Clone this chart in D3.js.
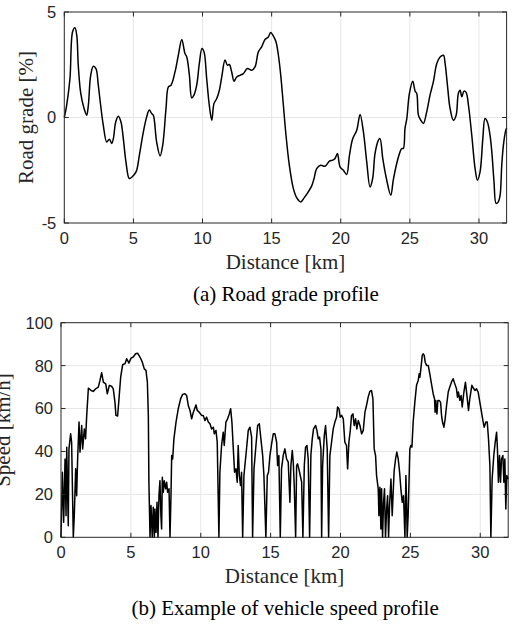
<!DOCTYPE html>
<html>
<head>
<meta charset="utf-8">
<script src="https://cdn.jsdelivr.net/npm/d3@7"></script>
<style>
  html, body { margin: 0; padding: 0; background: #fff; }
  svg { display: block; }
  .tick-label { font-family: "Liberation Sans", Arial, sans-serif; font-size: 16.5px; fill: #262626; }
  .axis-label { font-family: "Liberation Serif", "Times New Roman", serif; font-size: 21px; fill: #262626; }
  .caption { font-family: "Liberation Serif", "Times New Roman", serif; font-size: 21px; fill: #000; }
</style>
</head>
<body>
<svg id="chart" width="513" height="631"></svg>
<script>
// distance ticks shared by both panels
const distTicks = [0, 5, 10, 15, 20, 25, 30];
const gradeTicks = [-5, 0, 5];
const speedTicks = [0, 20, 40, 60, 80, 100];

// (a) road grade profile
const gradeDist = [0, 0.17, 0.41, 0.6, 0.77, 0.9, 1.01, 1.19, 1.43, 1.62, 1.74, 1.91, 2.1, 2.29, 2.46, 2.63,
  2.82, 3.07, 3.26, 3.43, 3.55, 3.72, 3.91, 4.1, 4.27, 4.46, 4.7, 4.88, 5.19, 5.43, 5.72, 5.96, 6.15, 6.32,
  6.44, 6.68, 6.93, 7.12, 7.36, 7.53, 7.72, 8.01, 8.25, 8.5, 8.73, 8.86, 9.05, 9.22, 9.38, 9.58, 9.77, 9.96,
  10.11, 10.3, 10.49, 10.67, 10.83, 11.03, 11.22, 11.39, 11.63, 11.8, 11.94, 12.11, 12.28, 12.47, 12.71,
  12.95, 13.24, 13.56, 13.8, 14.04, 14.28, 14.52, 14.76, 14.93, 15.12, 15.32, 15.49, 15.66, 15.85, 16.04,
  16.28, 16.57, 16.82, 17.11, 17.35, 17.58, 17.9, 18.07, 18.26, 18.55, 18.86, 19.18, 19.42, 19.59, 19.76,
  19.95, 20.19, 20.43, 20.63, 20.87, 21.16, 21.4, 21.64, 21.88, 22.12, 22.31, 22.48, 22.72, 22.84, 23.04,
  23.28, 23.62, 23.8, 24.05, 24.29, 24.41, 24.53, 24.65, 24.78, 24.97, 25.21, 25.38, 25.5, 25.62, 25.79,
  25.98, 26.22, 26.46, 26.7, 26.95, 27.19, 27.43, 27.55, 27.72, 27.91, 28.15, 28.35, 28.51, 28.64, 28.76,
  28.92, 29.07, 29.24, 29.48, 29.72, 29.89, 30.08, 30.28, 30.44, 30.61, 30.8, 30.93, 31.09, 31.24, 31.4,
  31.53, 31.65, 31.77, 31.94, 32];
const gradePct = [0, 0.58, 1.85, 4.06, 4.25, 3.9, 2.48, 1.14, 0.43, 0.11, 0.58, 2.0, 2.43, 2.32, 1.53, 0.58,
  -0.36, -1.16, -1.03, -1.23, -1.0, -0.21, 0.06, -0.21, -1.0, -2.1, -2.89, -2.83, -2.58, -1.79, -0.68, 0.03,
  0.35, 0.19, 0.11, -1.16, -1.82, -1.31, 0.43, 1.45, 1.53, 2.16, 2.95, 3.7, 3.03, 2.87, 2.0, 0.93, 1.06,
  1.53, 2.56, 3.27, 3.11, 1.85, 0.58, -0.13, 0.66, 0.9, 1.29, 1.92, 2.72, 2.48, 2.51, 2.16, 1.72, 1.92, 2.0,
  2.08, 2.32, 2.24, 2.4, 3.11, 3.35, 3.7, 3.82, 4.03, 3.87, 3.58, 2.95, 2.0, 0.58, -0.84, -2.26, -3.36,
  -3.81, -4.0, -3.81, -3.6, -3.24, -2.89, -2.42, -2.26, -2.31, -2.07, -2.02, -1.94, -1.71, -2.34, -2.5,
  -2.7, -1.79, -1.0, -0.6, 0.14, -0.68, -2.1, -3.29, -2.89, -1.71, -1.08, -1.0, -1.94, -2.82, -3.68, -2.97,
  -2.18, -1.63, -1.47, -1.47, -0.52, -0.05, 1.14, 1.72, 1.25, 1.14, 0.11, -0.13, -0.28, 0.27, 1.06, 1.69,
  2.56, 2.87, 2.95, 2.56, 1.53, 0.43, -0.13, 0.11, 1.14, 1.29, 0.98, 1.25, 1.19, 0.58, -0.84, -2.42, -2.97,
  -2.58, -1.0, -0.05, -0.21, -0.84, -1.63, -3.05, -4.07, -4.0, -3.68, -2.26, -1.31, -0.6, -0.5];

// (b) vehicle speed profile
const speedDist = [0, 0.1, 0.19, 0.29, 0.36, 0.41, 0.52, 0.57, 0.69, 0.76, 0.88, 0.95, 1.05, 1.12, 1.19,
  1.29, 1.36, 1.48, 1.55, 1.67, 1.76, 1.84, 1.96, 2.15, 2.31, 2.48, 2.67, 2.79, 2.91, 3.03, 3.2, 3.31, 3.46,
  3.62, 3.74, 3.86, 3.93, 4.05, 4.15, 4.27, 4.41, 4.58, 4.7, 4.86, 5.01, 5.17, 5.34, 5.48, 5.65, 5.82, 5.96,
  6.08, 6.18, 6.25, 6.29, 6.37, 6.44, 6.53, 6.6, 6.68, 6.72, 6.8, 6.87, 6.94, 7.01, 7.08, 7.15, 7.2, 7.25,
  7.32, 7.39, 7.49, 7.56, 7.63, 7.73, 7.8, 7.87, 7.92, 7.99, 8.08, 8.23, 8.39, 8.56, 8.7, 8.87, 8.99, 9.11,
  9.23, 9.35, 9.47, 9.66, 9.75, 9.89, 10.06, 10.18, 10.3, 10.42, 10.54, 10.66, 10.78, 10.9, 10.97, 11.09,
  11.18, 11.3, 11.37, 11.49, 11.61, 11.68, 11.8, 11.92, 12.04, 12.14, 12.23, 12.33, 12.42, 12.52, 12.61,
  12.68, 12.76, 12.85, 12.92, 13.0, 13.09, 13.23, 13.4, 13.52, 13.64, 13.71, 13.81, 13.95, 14.07, 14.19,
  14.28, 14.43, 14.52, 14.66, 14.76, 14.85, 14.95, 15.07, 15.19, 15.31, 15.43, 15.5, 15.59, 15.69, 15.78,
  15.9, 16.02, 16.14, 16.26, 16.38, 16.45, 16.55, 16.62, 16.69, 16.79, 16.86, 16.93, 17.02, 17.12, 17.22,
  17.31, 17.41, 17.5, 17.6, 17.69, 17.79, 17.88, 17.98, 18.07, 18.22, 18.31, 18.41, 18.5, 18.6, 18.65,
  18.72, 18.84, 18.93, 19.05, 19.15, 19.24, 19.36, 19.48, 19.6, 19.72, 19.79, 19.89, 19.98, 20.08, 20.2,
  20.31, 20.43, 20.51, 20.6, 20.7, 20.79, 20.89, 20.98, 21.08, 21.17, 21.27, 21.39, 21.51, 21.63, 21.75,
  21.86, 21.98, 22.1, 22.22, 22.32, 22.41, 22.51, 22.58, 22.7, 22.75, 22.82, 22.89, 22.94, 23.01, 23.08,
  23.15, 23.22, 23.3, 23.37, 23.44, 23.51, 23.61, 23.7, 23.77, 23.84, 23.94, 24.03, 24.13, 24.23, 24.32,
  24.42, 24.51, 24.61, 24.68, 24.73, 24.77, 24.84, 24.92, 24.96, 25.03, 25.11, 25.2, 25.32, 25.44, 25.56,
  25.63, 25.68, 25.75, 25.85, 25.92, 25.99, 26.06, 26.16, 26.28, 26.39, 26.51, 26.63, 26.73, 26.77, 26.82,
  26.9, 26.97, 27.06, 27.16, 27.23, 27.3, 27.4, 27.49, 27.59, 27.71, 27.82, 27.94, 28.06, 28.18, 28.3,
  28.37, 28.44, 28.54, 28.63, 28.71, 28.83, 28.94, 29.06, 29.16, 29.25, 29.4, 29.54, 29.63, 29.73, 29.85,
  29.97, 30.09, 30.21, 30.28, 30.4, 30.5, 30.59, 30.69, 30.76, 30.85, 30.97, 31.07, 31.17, 31.23, 31.3,
  31.38, 31.45, 31.52, 31.62, 31.69, 31.76, 31.83, 31.9, 32];
const speedKmh = [0, 30.3, 7, 36.5, 10.1, 42, 5.4, 41.2, 48.2, 44.3, 0, 10.1, 31.9, 19.4, 36.5,
  53.7, 39.7, 52.1, 41.2, 50.5, 45.9, 56.8, 69.5, 68.4, 68, 69.2, 70, 73.1, 76.7, 72.3, 71.5, 66.9, 70.8,
  70.4, 69.2, 63, 56.8, 56.5, 64.5, 74.6, 80.4, 80.9, 83.2, 81.2, 83.5, 84, 85.5, 85.8, 84, 81.6, 78.5,
  77.8, 72.3, 56.8, 25.7, 0, 14.8, 0, 14, 0, 13.2, 2.3, 16.3, 0, 19.4, 26.4, 10.1, 3.9, 28,
  21, 26.4, 22.6, 25.7, 21, 22.6, 0, 19.4, 38.1, 36.5, 45.9, 53.7, 59.9, 64.5, 66.6, 66.9, 66.1, 61.4,
  59.1, 55.2, 58.3, 61.7, 59.1, 58.3, 56.8, 56.8, 54.4, 56, 53.7, 52.9, 50.5, 51.3, 48.2, 49.8,
  44.3, 0, 30.3, 42.8, 49, 42.8, 53.7, 55.2, 57.5, 59.9, 53.7, 41.2, 30.3, 31.9, 25.7,
  42.8, 28.8, 24.1, 30.3, 0, 28.8, 38.1, 49.8, 51.3, 46.7, 0, 31.9, 42.8, 52.1, 52.9,
  47.4, 38.1, 28.8, 0, 28.8, 30.3, 38.1, 43.5, 48.2, 48.2, 44.3, 33.4, 38.1, 0, 31.9,
  38.1, 41.2, 36.5, 35, 16.3, 33.4, 40.4, 35, 24.1, 0, 33.4, 34.2, 31.9, 28.8, 25.7,
  0, 33.4, 42, 42.8, 36.5, 0, 38.1, 45.9, 50.5, 52.1, 49.8, 45.9, 46.7, 41.2, 0,
  33.4, 47.4, 52.1, 41.2, 0, 38.1, 44.3, 50.5, 53.7, 56, 60.7, 59.9, 56, 56.8, 55.2,
  44.3, 42.8, 31.9, 44.3, 49.8, 56.8, 57.5, 52.1, 55.2, 50.5, 54.4, 52.1, 48.2, 49.8, 58.3,
  61.4, 65.3, 68, 68.4, 64.5, 41.2, 38.1, 28.8, 22.6, 10.1, 23.3, 3.9, 22.6, 0, 16.3,
  22.6, 0, 13.2, 19.4, 0, 14.8, 27.2, 10.1, 21, 31.1, 36.5, 39.7, 36.5, 30.3, 22.6,
  16.3, 19.4, 0, 28.8, 16.3, 0, 10.1, 30.3, 41.2, 42.8, 42, 53.7, 63, 70.8, 73.1,
  76.2, 74.6, 78.5, 84.8, 85.5, 84.8, 81.6, 80.1, 80.1, 76.2, 71.5, 66.9, 64.5, 58.3, 63.8,
  57.5, 63.8, 63.8, 63, 56.8, 53.7, 51.3, 55.2, 61.4, 67.7, 70, 72.3, 73.9, 71.5, 69.2,
  65.3, 67.7, 63.8, 66.1, 60.7, 67.7, 72.3, 65.3, 59.1, 64.5, 70.8, 69.2, 68.4, 69.2, 67.7,
  63, 58.3, 53.7, 51.3, 53.7, 53.7, 45.9, 33.4, 0, 27.2, 38.1, 44.3, 49, 41.2, 25.7,
  38.1, 25.7, 36.5, 38.1, 25.7, 36.5, 13.2, 28.8, 27.2];

const svg = d3.select("#chart");
svg.append("rect").attr("width", 513).attr("height", 631).attr("fill", "#fff");

const panels = [
  {
    box: { left: 64.3, right: 506.6, top: 12, bottom: 223 },
    yDomain: [-5, 5], yTicks: gradeTicks,
    xs: gradeDist, ys: gradePct, curve: d3.curveCatmullRom.alpha(0.5),
    yLabel: "Road grade [%]", yLabelX: 33,
    caption: "(a) Road grade profile"
  },
  {
    box: { left: 61, right: 508.2, top: 322.7, bottom: 537.3 },
    yDomain: [0, 100], yTicks: speedTicks,
    xs: speedDist, ys: speedKmh, curve: d3.curveLinear,
    yLabel: "Speed [km/h]", yLabelX: 10,
    caption: "(b) Example of vehicle speed profile"
  }
];

panels.forEach(p => drawPanel(p));

function drawPanel(p) {
  const b = p.box;
  const x = d3.scaleLinear().domain([0, 32]).range([b.left, b.right]);
  const y = d3.scaleLinear().domain(p.yDomain).range([b.bottom, b.top]);
  const g = svg.append("g");
  const tickLen = 4.5;

  // grid
  g.selectAll(".vgrid").data(distTicks.filter(t => t > 0)).enter().append("line")
    .attr("x1", d => x(d)).attr("x2", d => x(d))
    .attr("y1", b.top).attr("y2", b.bottom)
    .attr("stroke", "#e6e6e6").attr("stroke-width", 1);
  g.selectAll(".hgrid").data(p.yTicks.slice(1, -1)).enter().append("line")
    .attr("x1", b.left).attr("x2", b.right)
    .attr("y1", d => y(d)).attr("y2", d => y(d))
    .attr("stroke", "#e6e6e6").attr("stroke-width", 1);

  // data line
  const pts = p.xs.map((d, i) => [d, p.ys[i]]);
  const line = d3.line().x(d => x(d[0])).y(d => y(d[1])).curve(p.curve);
  g.append("path")
    .datum(pts)
    .attr("fill", "none")
    .attr("stroke", "#000")
    .attr("stroke-width", 1.5)
    .attr("stroke-linejoin", "round")
    .attr("d", line);

  // inward ticks on all four sides
  distTicks.forEach(t => {
    g.append("line").attr("x1", x(t)).attr("x2", x(t)).attr("y1", b.bottom).attr("y2", b.bottom - tickLen)
      .attr("stroke", "#262626");
    g.append("line").attr("x1", x(t)).attr("x2", x(t)).attr("y1", b.top).attr("y2", b.top + tickLen)
      .attr("stroke", "#262626");
  });
  p.yTicks.forEach(t => {
    g.append("line").attr("x1", b.left).attr("x2", b.left + tickLen).attr("y1", y(t)).attr("y2", y(t))
      .attr("stroke", "#262626");
    g.append("line").attr("x1", b.right).attr("x2", b.right - tickLen).attr("y1", y(t)).attr("y2", y(t))
      .attr("stroke", "#262626");
  });

  // box
  g.append("rect")
    .attr("x", b.left).attr("y", b.top)
    .attr("width", b.right - b.left).attr("height", b.bottom - b.top)
    .attr("fill", "none").attr("stroke", "#262626").attr("stroke-width", 1);

  // tick labels
  g.selectAll(".xl").data(distTicks).enter().append("text")
    .attr("class", "tick-label")
    .attr("x", d => x(d)).attr("y", b.bottom + 20.5)
    .attr("text-anchor", "middle")
    .text(d => d);
  g.selectAll(".yl").data(p.yTicks).enter().append("text")
    .attr("class", "tick-label")
    .attr("x", b.left - 8).attr("y", d => y(d)).attr("dy", "0.36em")
    .attr("text-anchor", "end")
    .text(d => d);

  // axis labels and caption
  const cx = (b.left + b.right) / 2;
  g.append("text").attr("class", "axis-label")
    .attr("x", cx).attr("y", b.bottom + 45.5)
    .attr("text-anchor", "middle")
    .text("Distance [km]");
  g.append("text").attr("class", "axis-label")
    .attr("transform", `translate(${p.yLabelX},${(b.top + b.bottom) / 2}) rotate(-90)`)
    .attr("text-anchor", "middle")
    .text(p.yLabel);
  g.append("text").attr("class", "caption")
    .attr("x", cx + 0.5).attr("y", b.bottom + 78)
    .attr("text-anchor", "middle")
    .text(p.caption);
}
</script>
</body>
</html>
